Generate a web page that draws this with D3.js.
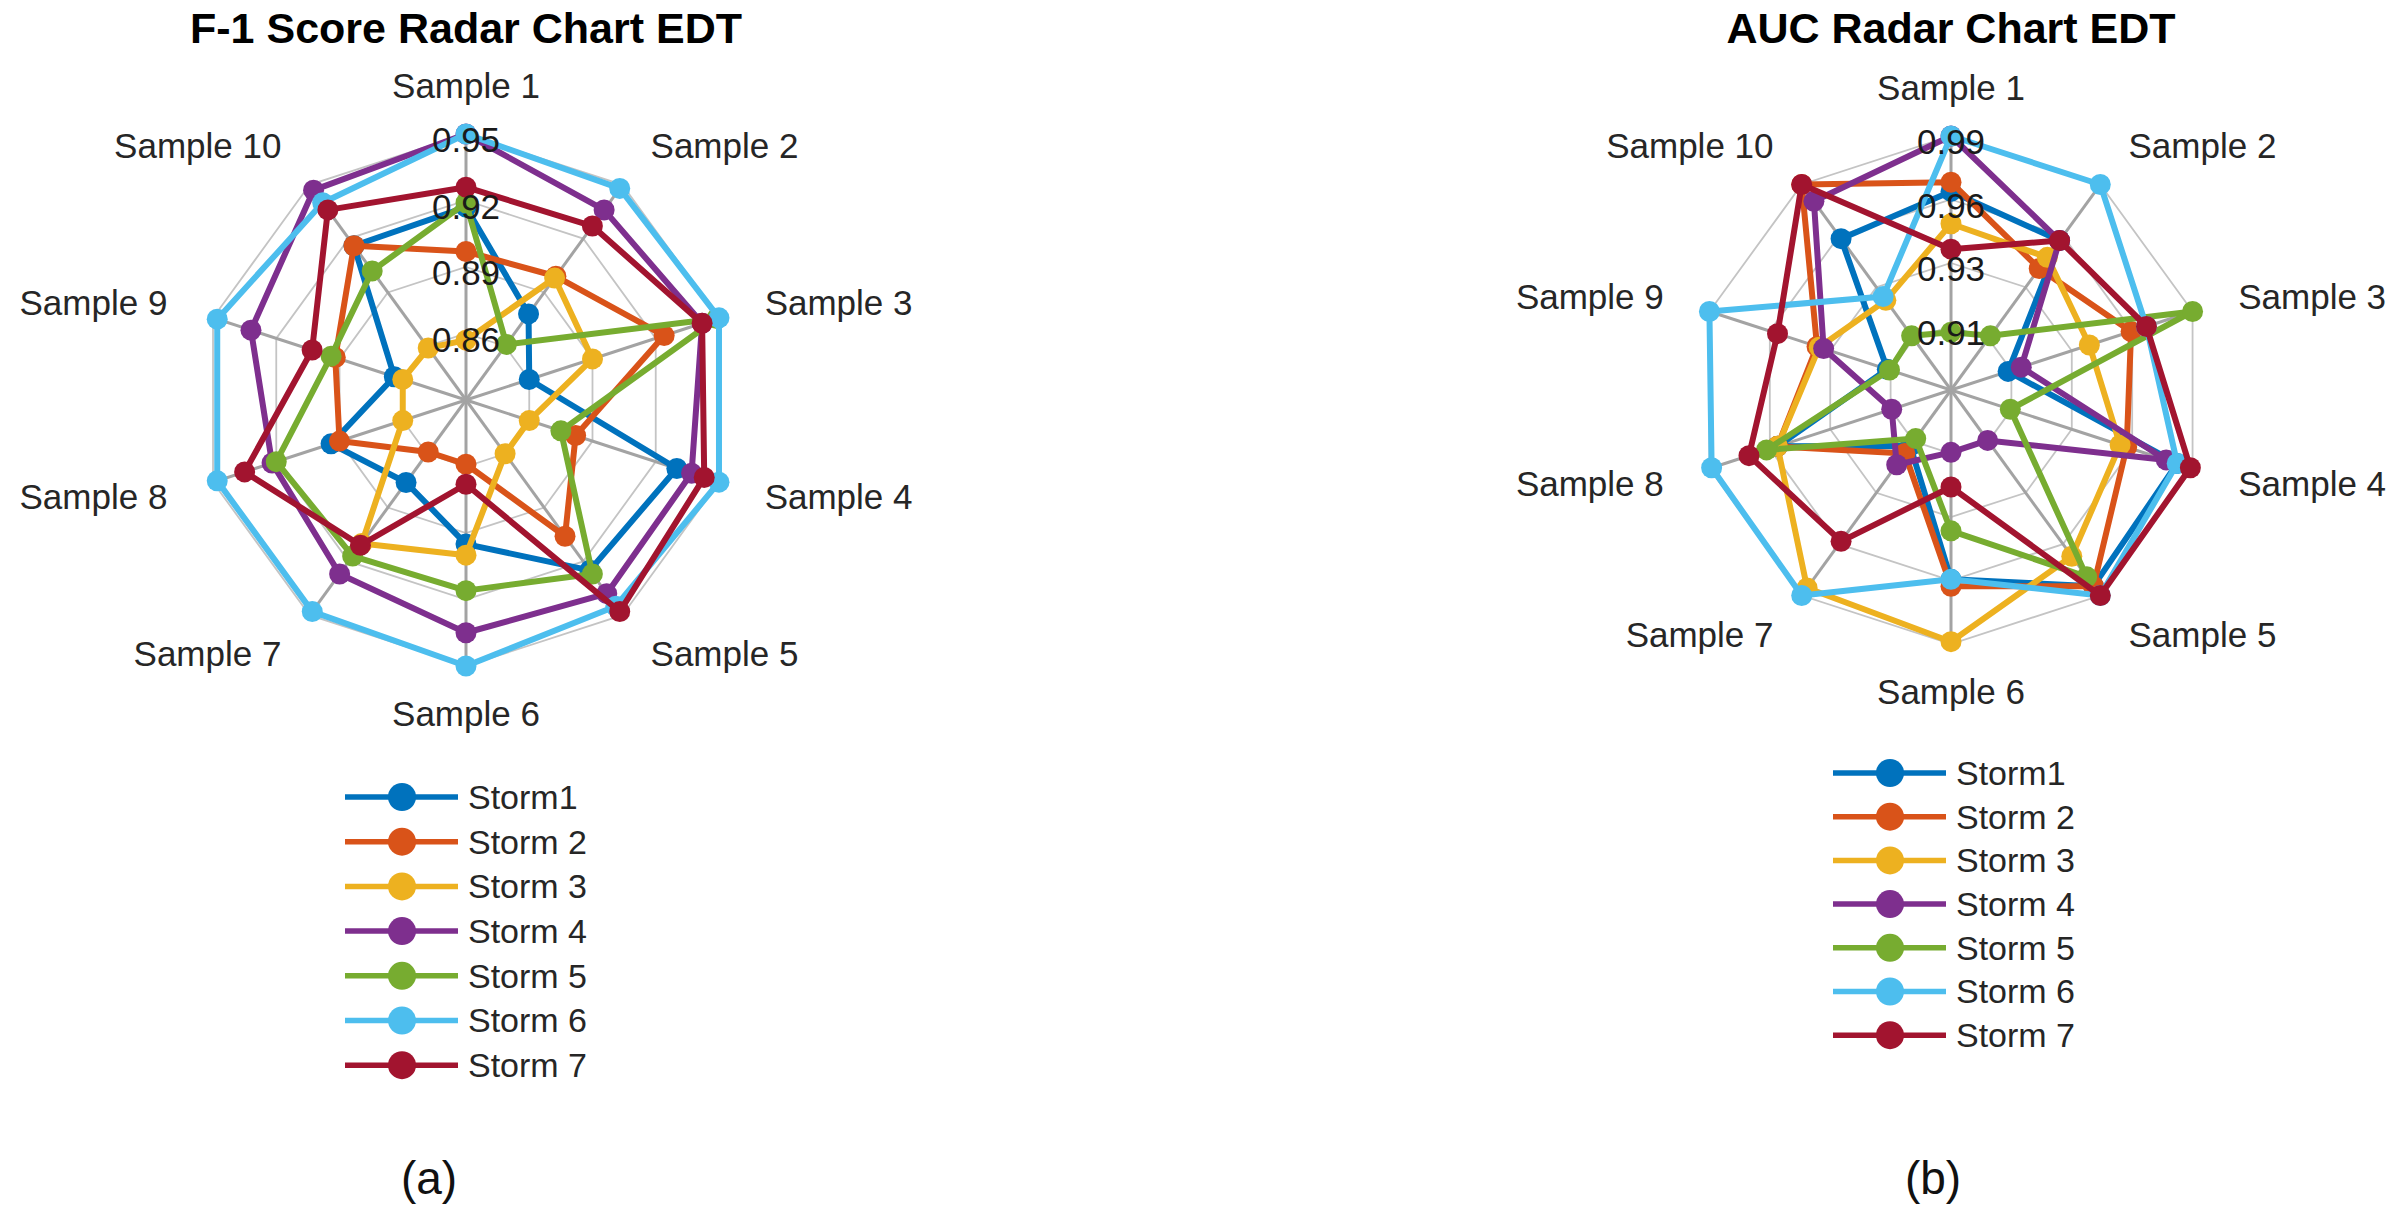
<!DOCTYPE html>
<html>
<head>
<meta charset="utf-8">
<script src="https://cdn.jsdelivr.net/npm/d3@7"></script>
<style>
   body{margin:0;background:#fff;}
   svg text{font-family:"Liberation Sans",Arial,Helvetica,sans-serif;}
</style>
</head>
<body>
<svg id="chart"></svg>
<script>
//data (Storm x Sample)
const samples = ["Sample 1","Sample 2","Sample 3","Sample 4","Sample 5","Sample 6","Sample 7","Sample 8","Sample 9","Sample 10"];
const storms = ["Storm1","Storm 2","Storm 3","Storm 4","Storm 5","Storm 6","Storm 7"];
const colors = ["#0072BD","#D95319","#EDB120","#7E2F8E","#77AC30","#4DBEEE","#A2142F"];

// F-1 score
const f1Min = 0.83, f1Max = 0.95;
const f1Ticks = [0.86, 0.89, 0.92, 0.95];
const f1TickLabels = ["0.86","0.89","0.92","0.95"];
const f1Values = [
   [0.917, 0.878, 0.860, 0.930, 0.925, 0.895, 0.876, 0.894, 0.864, 0.916],
   [0.897, 0.899, 0.924, 0.882, 0.906, 0.859, 0.859, 0.890, 0.892, 0.916],
   [0.857, 0.898, 0.890, 0.860, 0.860, 0.900, 0.910, 0.860, 0.860, 0.859],
   [0.950, 0.936, 0.942, 0.937, 0.938, 0.935, 0.927, 0.922, 0.932, 0.947],
   [0.919, 0.861, 0.949, 0.875, 0.927, 0.916, 0.917, 0.920, 0.894, 0.902],
   [0.950, 0.948, 0.950, 0.950, 0.945, 0.950, 0.948, 0.948, 0.948, 0.940],
   [0.926, 0.927, 0.942, 0.943, 0.948, 0.868, 0.911, 0.935, 0.903, 0.936]
];

// AUC
const aucMin = 0.88, aucMax = 0.99;
const aucTicks = [0.9075, 0.935, 0.9625, 0.99];
const aucTickLabels = ["0.91","0.93","0.96","0.99"];
const aucValues = [
   [0.966, 0.960, 0.906, 0.983, 0.985, 0.962, 0.910, 0.959, 0.909, 0.961],
   [0.970, 0.945, 0.962, 0.960, 0.985, 0.965, 0.914, 0.959, 0.941, 0.990],
   [0.952, 0.951, 0.943, 0.957, 0.969, 0.989, 0.986, 0.959, 0.940, 0.928],
   [0.990, 0.960, 0.912, 0.978, 0.907, 0.907, 0.920, 0.907, 0.938, 0.981],
   [0.905, 0.909, 0.990, 0.907, 0.980, 0.941, 0.906, 0.964, 0.908, 0.909],
   [0.990, 0.990, 0.969, 0.983, 0.990, 0.962, 0.990, 0.989, 0.990, 0.930],
   [0.941, 0.960, 0.969, 0.989, 0.990, 0.922, 0.961, 0.972, 0.959, 0.990]
];

const width = 2403, height = 1220;
const svg = d3.select("#chart")
   .attr("width", width)
   .attr("height", height)

function drawRadar(cfg){
   const g = svg.append("g").attr("transform", `translate(${cfg.cx},${cfg.cy})`);

   const angle = d3.scaleLinear()
      .domain([0, samples.length])
      .range([0, 2 * Math.PI]);
   const radius = d3.scaleLinear()
      .domain([cfg.min, cfg.max])
      .range([0, cfg.r]);

   //web rings
   const ring = d3.lineRadial()
      .angle((d, i) => angle(i))
      .radius(d => radius(d))
      .curve(d3.curveLinearClosed);

   g.append("g").selectAll("path")
      .data(cfg.ticks)
      .enter().append("path")
         .attr("d", t => ring(samples.map(() => t)))
         .attr("fill", "none")
         .attr("stroke", "#c4c4c4")
         .attr("stroke-width", 1.8)

   //spokes
   g.append("g").selectAll("line")
      .data(samples)
      .enter().append("line")
         .attr("x1", 0).attr("y1", 0)
         .attr("x2", (d, i) => d3.pointRadial(angle(i), radius(cfg.max))[0])
         .attr("y2", (d, i) => d3.pointRadial(angle(i), radius(cfg.max))[1])
         .attr("stroke", "#a3a3a3")
         .attr("stroke-width", 3)

   //one group per storm, line + markers so later storms sit on top
   const series = g.append("g").selectAll("g")
      .data(cfg.values)
      .enter().append("g")

   series.append("path")
      .attr("d", vals => ring(vals))
      .attr("fill", "none")
      .attr("stroke", (d, i) => colors[i])
      .attr("stroke-width", 6)
      .attr("stroke-linejoin", "round")

   series.each(function(vals, si){
      d3.select(this).selectAll("circle")
         .data(vals)
         .enter().append("circle")
            .attr("cx", (v, i) => d3.pointRadial(angle(i), radius(v))[0])
            .attr("cy", (v, i) => d3.pointRadial(angle(i), radius(v))[1])
            .attr("r", 10.5)
            .attr("fill", colors[si])
   })

   //sample names round the outside
   g.append("g").selectAll("text")
      .data(samples)
      .enter().append("text")
         .text(d => d)
         .attr("x", (d, i) => d3.pointRadial(angle(i), cfg.r + 48)[0])
         .attr("y", (d, i) => d3.pointRadial(angle(i), cfg.r + 48)[1])
         .attr("dy", "0.35em")
         .attr("font-size", 35)
         .attr("fill", "#262626")
         .attr("text-anchor", (d, i) => {
            let s = Math.sin(angle(i));
            if(s > 0.1) return "start";
            else if(s < -0.1) return "end";
            else return "middle";
         })

   //ring values on the first axis
   g.append("g").selectAll("text")
      .data(cfg.ticks)
      .enter().append("text")
         .text((t, i) => cfg.tickLabels[i])
         .attr("x", 0)
         .attr("y", t => -radius(t) + 6)
         .attr("dy", "0.35em")
         .attr("text-anchor", "middle")
         .attr("font-size", 35)
         .attr("fill", "#1a1a1a")

   //title
   svg.append("text")
      .text(cfg.title)
      .attr("x", cfg.cx)
      .attr("y", 28)
      .attr("dy", "0.35em")
      .attr("text-anchor", "middle")
      .attr("font-size", 43)
      .attr("font-weight", "bold")
      .attr("fill", "#000")

   //legend
   const legend = svg.append("g")
      .attr("transform", `translate(${cfg.legX},${cfg.legY})`)
   const rows = legend.selectAll("g")
      .data(storms)
      .enter().append("g")
         .attr("transform", (d, i) => `translate(0,${i * cfg.legStep})`)
   rows.append("line")
      .attr("x1", 0).attr("x2", 113)
      .attr("y1", 0).attr("y2", 0)
      .attr("stroke", (d, i) => colors[i])
      .attr("stroke-width", 5.5)
   rows.append("circle")
      .attr("cx", 57).attr("cy", 0)
      .attr("r", 14)
      .attr("fill", (d, i) => colors[i])
   rows.append("text")
      .text(d => d)
      .attr("x", 123)
      .attr("y", 0)
      .attr("dy", "0.35em")
      .attr("font-size", 34)
      .attr("fill", "#262626")

   //panel tag
   svg.append("text")
      .text(cfg.tag)
      .attr("x", cfg.tagX)
      .attr("y", 1178)
      .attr("dy", "0.35em")
      .attr("text-anchor", "middle")
      .attr("font-size", 46)
      .attr("fill", "#111")
}

drawRadar({
   title: "F-1 Score Radar Chart EDT", cx: 466, cy: 400, r: 266,
   min: f1Min, max: f1Max, ticks: f1Ticks, tickLabels: f1TickLabels, values: f1Values,
   legX: 345, legY: 797, legStep: 44.7, tag: "(a)", tagX: 429
});
drawRadar({
   title: "AUC Radar Chart EDT", cx: 1951, cy: 390, r: 254,
   min: aucMin, max: aucMax, ticks: aucTicks, tickLabels: aucTickLabels, values: aucValues,
   legX: 1833, legY: 773, legStep: 43.7, tag: "(b)", tagX: 1933
});
</script>
</body>
</html>
